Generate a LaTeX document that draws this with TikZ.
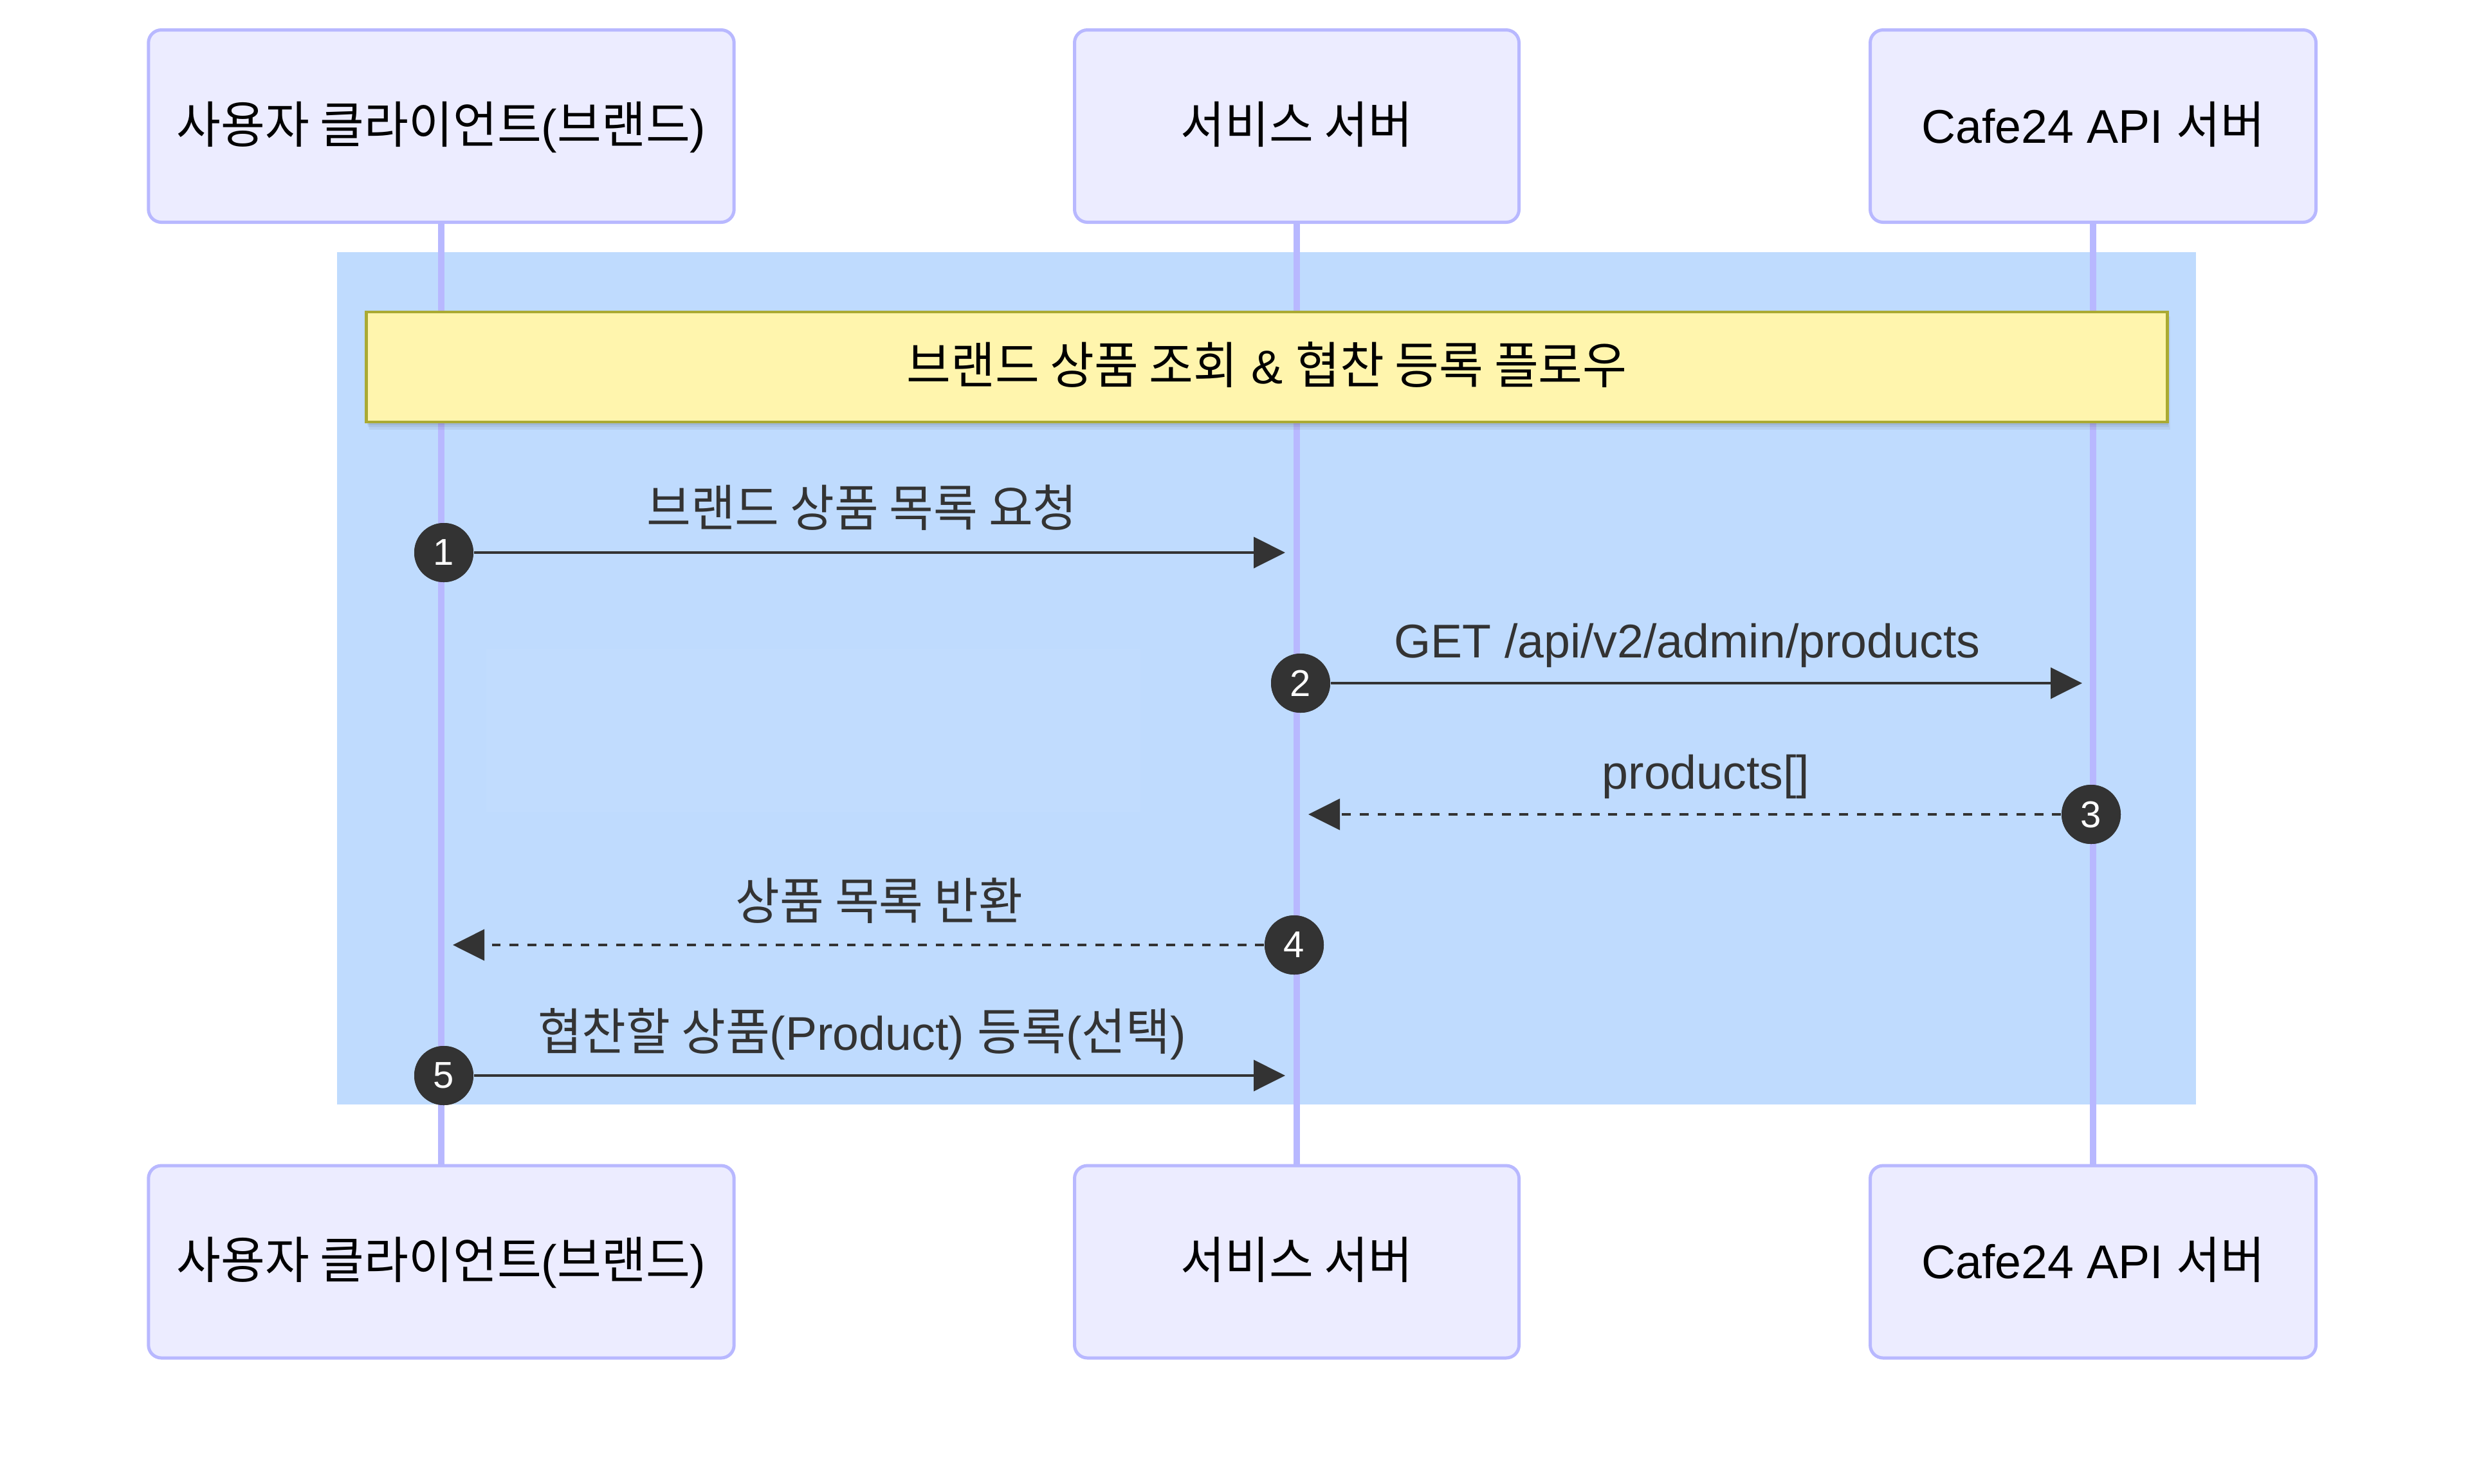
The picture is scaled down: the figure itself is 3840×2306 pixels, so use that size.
\documentclass[tikz,border=0pt]{standalone}
\usepackage{fontspec}
\setmainfont{Liberation Sans}
\newfontfamily\kr[Scale=1.06,FakeStretch=0.96]{Noto Sans CJK KR}
\usetikzlibrary{arrows.meta}
\definecolor{bgblue}{HTML}{BFDBFE}
\definecolor{actorfill}{HTML}{ECECFF}
\definecolor{actorline}{HTML}{B8B8FF}
\definecolor{notefill}{HTML}{FFF5AD}
\definecolor{noteline}{HTML}{AAAA33}
\definecolor{ink}{HTML}{333333}
\begin{document}
\begin{tikzpicture}[x=0.25pt,y=-0.25pt,
  every node/.style={font=\fontsize{18.375pt}{22pt}\selectfont},
  actor/.style={draw=actorline,fill=actorfill,line width=1.25pt,rounded corners=5pt,
    minimum height=74.75pt,inner sep=0pt,text height=13pt,text depth=0pt,text=black},
  lifeline/.style={draw=actorline,line width=2.5pt},
  notebox/.style={draw=noteline,fill=notefill,line width=1.2pt,minimum width=700pt,
    minimum height=42.75pt,inner sep=0pt,text height=13pt,text depth=0pt,text=black},
  num/.style={circle,fill=ink,inner sep=0pt,minimum size=23pt,text=white,
    font=\fontsize{14.5pt}{17pt}\selectfont},
  msg/.style={draw=ink,line width=1.125pt,-{Triangle[length=12.25pt,width=12pt]}},
  reply/.style={msg,dash pattern=on 3.45pt off 3.45pt},
  lbl/.style={anchor=base,text=ink,inner sep=0pt}]
\useasboundingbox (0,0) rectangle (3840,2306);
\fill[white] (0,0) rectangle (3840,2306);
% group background
\fill[bgblue] (524,392) rectangle (3414,1717);
\fill[white,fill opacity=0.04] (756,1009) rectangle (1773,1262);
% actors
\node[actor,minimum width=227.6pt] (tA) at (686,196) {{\kr 사용자 클라이언트}({\kr 브랜드})};
\node[actor,minimum width=172.75pt] (tB) at (2016,196) {{\kr 서비스 서버}};
\node[actor,minimum width=173.25pt] (tC) at (3254,196) {Cafe24 API {\kr 서버}};
\node[actor,minimum width=227.6pt] (bA) at (686,1961.5) {{\kr 사용자 클라이언트}({\kr 브랜드})};
\node[actor,minimum width=172.75pt] (bB) at (2016,1961.5) {{\kr 서비스 서버}};
\node[actor,minimum width=173.25pt] (bC) at (3254,1961.5) {Cafe24 API {\kr 서버}};
% lifelines
\draw[lifeline] (tA) -- (bA);
\draw[lifeline] (tB) -- (bB);
\draw[lifeline] (tC) -- (bC);
% note with soft shadow
\fill[black,opacity=0.05] (574,492) rectangle (3374,668);
\fill[black,opacity=0.05] (572,490) rectangle (3372,664);
\fill[black,opacity=0.06] (571,488) rectangle (3371,661);
\node[notebox] (note) at (1969.5,570.5) {{\kr 브랜드 상품 조회} \& {\kr 협찬 등록 플로우}};
% sequence numbers and message end points
\node[num] (c1) at (690,859) {1};
\node[num] (c2) at (2022,1062) {2};
\node[num] (c3) at (3251,1266) {3};
\node[num] (c4) at (2012,1469) {4};
\node[num] (c5) at (690,1672) {5};
\coordinate (t1) at (1998,859);
\coordinate (t2) at (3237,1062);
\coordinate (t3) at (2034,1266);
\coordinate (t4) at (704,1469);
\coordinate (t5) at (1998,1672);
% messages
\draw[msg] (c1) -- (t1);
\draw[msg] (c2) -- (t2);
\draw[reply] (c3) -- (t3);
\draw[reply] (c4) -- (t4);
\draw[msg] (c5) -- (t5);
\node[num] at (c1) {1};
\node[num] at (c2) {2};
\node[num] at (c3) {3};
\node[num] at (c4) {4};
\node[num] at (c5) {5};
% labels
\node[lbl] (l1) at (1340,818) {{\kr 브랜드 상품 목록 요청}};
\node[lbl] (l2) at (2623,1022) {GET /api/v2/admin/products};
\node[lbl] (l3) at (2652,1226) {products[]};
\node[lbl] (l4) at (1367,1429) {{\kr 상품 목록 반환}};
\node[lbl] (l5) at (1340,1632) {{\kr 협찬할 상품}(Product) {\kr 등록}({\kr 선택})};
\end{tikzpicture}
\end{document}
